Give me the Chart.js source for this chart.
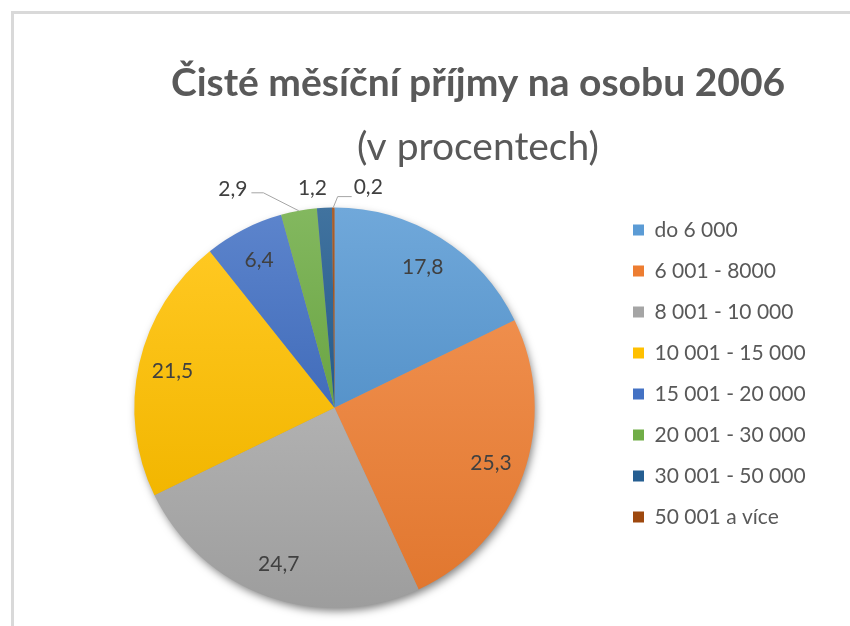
<!DOCTYPE html>
<html>
<head>
<meta charset="utf-8">
<script src="https://cdn.jsdelivr.net/npm/chart.js@4.4.1/dist/chart.umd.min.js"></script>
<style>
  html, body { margin: 0; padding: 0; background: #fff; overflow: hidden; }
  #wrap { width: 850px; height: 626px; overflow: hidden; }
  canvas { display: block; }
</style>
</head>
<body>
<div id="wrap"><canvas id="myChart" width="960" height="626"></canvas></div>
<script>
const categories = ['do 6 000', '6 001 - 8000', '8 001 - 10 000', '10 001 - 15 000',
                    '15 001 - 20 000', '20 001 - 30 000', '30 001 - 50 000', '50 001 a více'];
const shares = [17.8, 25.3, 24.7, 21.5, 6.4, 2.9, 1.2, 0.2];
const palette = ['#5B9BD5', '#ED7D31', '#A5A5A5', '#FFC000', '#4472C4', '#70AD47', '#255E91', '#9E480E'];
const chartTitle = 'Čisté měsíční příjmy na osobu 2006';
const chartSubtitle = '(v procentech)';

// small slices get their label outside, offset from the slice's outer midpoint
const outsideLabels = {
  5: { dx: -66, dy: -22, leader: 'right' },
  6: { dx: -12, dy: -20 },
  7: { dx: 35, dy: -20, leader: 'left' }
};

function mix(hex, target, t) {
  const n = parseInt(hex.slice(1), 16);
  const ch = [n >> 16 & 255, n >> 8 & 255, n & 255].map(v => Math.round(v + (target - v) * t));
  return 'rgb(' + ch.join(',') + ')';
}

function fmt(v) {
  return v.toFixed(1).replace('.', ',');
}

// vertical extent of slice i, used for its own top-to-bottom gradient
function sliceSpan(i, cy, r) {
  const total = shares.reduce((a, b) => a + b, 0);
  const before = shares.slice(0, i).reduce((a, b) => a + b, 0);
  const a0 = -Math.PI / 2 + before / total * Math.PI * 2;
  const a1 = a0 + shares[i] / total * Math.PI * 2;
  const ys = [cy, cy + Math.sin(a0) * r, cy + Math.sin(a1) * r];
  [-Math.PI / 2, Math.PI / 2, Math.PI * 1.5].forEach(a => {
    if (a >= a0 && a <= a1) ys.push(cy + Math.sin(a) * r);
  });
  return [Math.min(...ys), Math.max(...ys)];
}

const framePlugin = {
  id: 'frame',
  beforeDraw(chart) {
    const ctx = chart.ctx;
    ctx.save();
    ctx.fillStyle = '#fff';
    ctx.fillRect(0, 0, chart.width, chart.height);
    ctx.strokeStyle = '#d9d9d9';
    ctx.lineWidth = 3;
    ctx.strokeRect(12.5, 12.5, chart.width - 25, chart.height + 40);
    ctx.restore();
  }
};

// legend: wider box (pie stays left, title stays centred), list starts a bit higher
const legendPlacePlugin = {
  id: 'legendPlace',
  beforeUpdate(chart) {
    const lg = chart.legend;
    if (lg && !lg._wide) {
      const fit = lg.fit;
      lg.fit = function () { fit.call(this); this.width = 287; };
      lg._wide = true;
    }
  },
  afterLayout(chart) {
    const lg = chart.legend;
    lg.top -= 8;
    lg.bottom -= 8;
  }
};

const shadowPlugin = {
  id: 'pieShadow',
  beforeDatasetsDraw(chart) {
    const arc = chart.getDatasetMeta(0).data[0];
    if (!arc) return;
    const ctx = chart.ctx;
    ctx.save();
    ctx.shadowColor = 'rgba(0,0,0,0.5)';
    ctx.shadowBlur = 9;
    ctx.shadowOffsetX = 2;
    ctx.shadowOffsetY = 4;
    ctx.fillStyle = '#999';
    ctx.beginPath();
    ctx.arc(arc.x, arc.y, arc.outerRadius - 1, 0, Math.PI * 2);
    ctx.fill();
    ctx.restore();
  }
};

const labelPlugin = {
  id: 'sliceLabels',
  afterDatasetsDraw(chart) {
    const ctx = chart.ctx;
    const meta = chart.getDatasetMeta(0);
    ctx.save();
    ctx.font = '21px Lato';
    ctx.fillStyle = '#404040';
    ctx.textAlign = 'center';
    ctx.textBaseline = 'middle';
    meta.data.forEach((arc, i) => {
      const mid = (arc.startAngle + arc.endAngle) / 2;
      const text = fmt(shares[i]);
      const out = outsideLabels[i];
      if (!out) {
        const r = arc.outerRadius * 0.83;
        ctx.fillText(text, arc.x + Math.cos(mid) * r, arc.y + Math.sin(mid) * r);
        return;
      }
      const px = arc.x + Math.cos(mid) * arc.outerRadius;
      const py = arc.y + Math.sin(mid) * arc.outerRadius;
      const lx = px + out.dx, ly = py + out.dy;
      ctx.fillText(text, lx, ly);
      if (out.leader) {
        const w = ctx.measureText(text).width;
        ctx.save();
        ctx.strokeStyle = '#a6a6a6';
        ctx.lineWidth = 1;
        ctx.beginPath();
        if (out.leader === 'right') {
          const ax = lx + w / 2 + 4, ay = ly + 4;
          ctx.moveTo(ax, ay);
          ctx.lineTo(ax + 12, ay);
        } else {
          const ax = lx - w / 2 - 2, ay = ly + 9;
          ctx.moveTo(ax, ay);
          ctx.lineTo(ax - 14, ay);
        }
        ctx.lineTo(px, py);
        ctx.stroke();
        ctx.restore();
      }
    });
    ctx.restore();
  }
};

new Chart('myChart', {
  type: 'pie',
  data: {
    labels: categories,
    datasets: [{
      data: shares,
      borderWidth: 0,
      backgroundColor: c => {
        const base = palette[c.dataIndex];
        const area = c.chart.chartArea;
        if (!area) return base;
        const cy = (area.top + area.bottom) / 2;
        const r = Math.min(area.width, area.height) / 2;
        const [y0, y1] = sliceSpan(c.dataIndex, cy, r);
        const g = c.chart.ctx.createLinearGradient(0, y0, 0, y1 + 1);
        g.addColorStop(0, mix(base, 255, 0.13));
        g.addColorStop(1, mix(base, 0, 0.05));
        return g;
      }
    }]
  },
  options: {
    responsive: false,
    animation: false,
    layout: { padding: { left: 56, right: 60, top: 0, bottom: 18 } },
    plugins: {
      title: {
        display: true,
        text: chartTitle,
        color: '#595959',
        font: { family: 'Lato', size: 39, weight: 'bold', lineHeight: 1.2 },
        padding: { top: 60, bottom: 0 }
      },
      subtitle: {
        display: true,
        text: chartSubtitle,
        color: '#595959',
        font: { family: 'Lato', size: 39, weight: 'normal', lineHeight: 1.2 },
        padding: { top: 17, bottom: 37 }
      },
      legend: {
        position: 'right',
        align: 'start',
        fullSize: false,
        labels: {
          color: '#595959',
          font: { family: 'Lato', size: 21 },
          boxWidth: 11,
          boxHeight: 11,
          padding: 20,
          generateLabels(chart) {
            const items = Chart.overrides.doughnut.plugins.legend.labels.generateLabels(chart);
            items.forEach((it, i) => {
              it.fillStyle = palette[i];
              it.strokeStyle = palette[i];
              it.lineWidth = 0;
            });
            return items;
          }
        }
      },
      tooltip: { enabled: false }
    }
  },
  plugins: [framePlugin, legendPlacePlugin, shadowPlugin, labelPlugin]
});
</script>
</body>
</html>
